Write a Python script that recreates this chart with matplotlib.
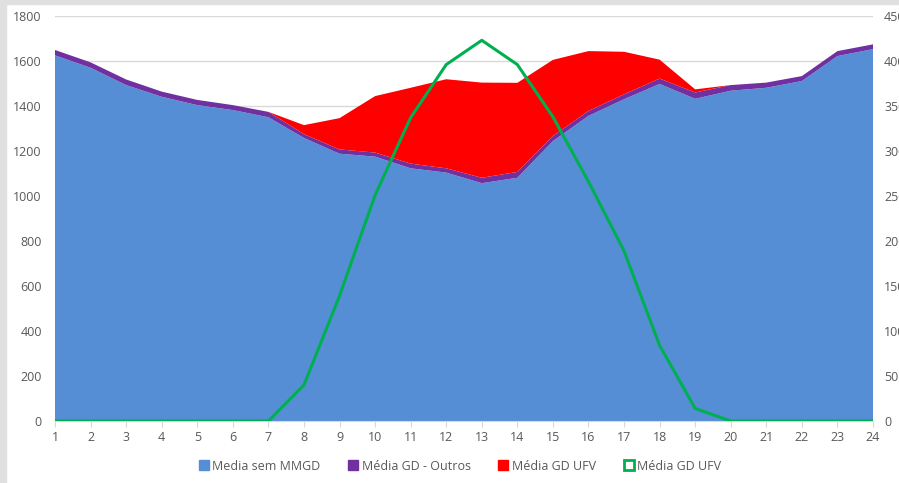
import numpy as np
import matplotlib
matplotlib.use("Agg")
import matplotlib.pyplot as plt
from matplotlib.patches import Patch, Rectangle
from matplotlib.lines import Line2D

plt.rcParams['font.family'] = ['Open Sans', 'DejaVu Sans']

hours = list(range(1, 25))
media_sem_mmgd = [1625, 1570, 1493, 1441, 1404, 1382, 1350, 1258, 1188, 1175, 1123, 1104,
                  1057, 1081, 1244, 1356, 1430, 1498, 1432, 1468, 1481, 1511, 1622, 1653]
gd_outros = [24, 24, 25, 23, 23, 22, 24, 17, 19, 18, 21, 19,
             24, 26, 23, 22, 22, 24, 28, 25, 23, 22, 22, 21]
gd_ufv = [0, 0, 0, 0, 0, 0, 0, 40, 139, 251, 337, 396,
          423, 396, 338, 266, 189, 84, 14, 0, 0, 0, 0, 0]

labels = ['Media sem MMGD', 'Média GD - Outros', 'Média GD UFV', 'Média GD UFV']
colors = ['#558ED5', '#7030A0', '#FF0000', '#00B050']
txt = '#595959'

W, H = 899, 483
fig = plt.figure(figsize=(W / 100, H / 100), dpi=100)
ax = fig.add_axes([55 / W, (H - 421) / H, (873 - 55) / W, (421 - 16) / H])

# grey frame strips at the top and left edge
fig.patches.append(Rectangle((0, 0), 6 / W, 1, transform=fig.transFigure, color='#e0e0e0', zorder=0))
fig.patches.append(Rectangle((0, 1 - 4 / H), 1, 4 / H, transform=fig.transFigure, color='#e0e0e0', zorder=0))

ax.stackplot(hours, media_sem_mmgd, gd_outros, gd_ufv, colors=colors[:3], zorder=2)
ax.set_xlim(1, 24)
ax.set_ylim(0, 1800)
ax.set_yticks(range(0, 1801, 200))
ax.set_xticks(hours)
ax.grid(axis='y', color='#d9d9d9', lw=1, zorder=0)
ax.set_axisbelow(True)
for s in ['top', 'right', 'left']:
    ax.spines[s].set_visible(False)
ax.spines['bottom'].set_color('#d9d9d9')
ax.tick_params(axis='y', length=0, pad=9.5, labelsize=9, labelcolor=txt)
ax.tick_params(axis='x', length=4, color='#d9d9d9', pad=3, labelsize=9, labelcolor=txt)

ax2 = ax.twinx()
ax2.plot(hours, gd_ufv, color=colors[3], lw=2.2, zorder=3)
ax2.set_ylim(0, 450)
ax2.set_yticks(range(0, 451, 50))
for s in ax2.spines.values():
    s.set_visible(False)
ax2.tick_params(axis='y', length=0, pad=8, labelsize=9, labelcolor=txt)

handles = [Patch(color=colors[0]), Patch(color=colors[1]), Patch(color=colors[2]),
           Line2D([], [], ls='none', marker='s', markersize=7, markerfacecolor='white',
                  markeredgecolor=colors[3], markeredgewidth=2)]
fig.legend(handles, labels, loc='center', bbox_to_anchor=(460 / W, 1 - 466 / H), ncol=4,
           frameon=False, fontsize=9, labelcolor=txt, handlelength=0.8, handleheight=0.8,
           handletextpad=0.3, columnspacing=2.2)

fig.savefig('out.png', dpi=100)
